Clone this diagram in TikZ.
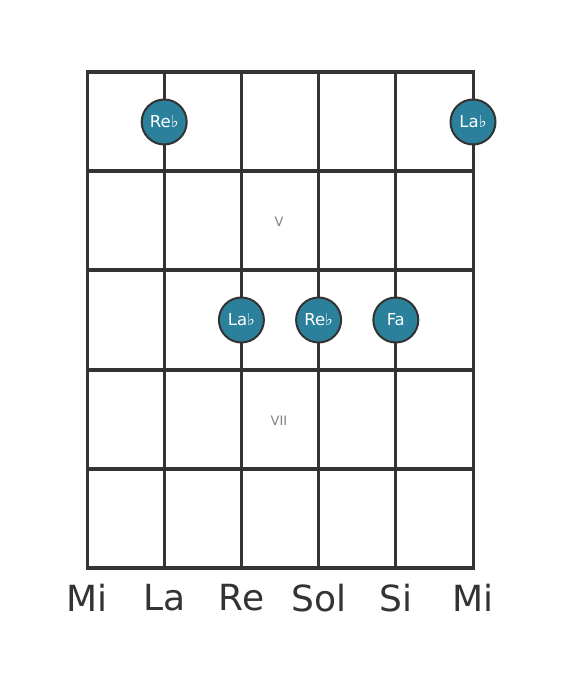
\documentclass[tikz,border=0pt]{standalone}
\usepackage{fontspec}
\setmainfont{DejaVu Sans}
\usepackage{tikz}
\usetikzlibrary{calc}
\definecolor{dotblue}{HTML}{2B809B}
\definecolor{wire}{HTML}{333333}

\begin{document}
\begin{tikzpicture}[x=1pt, y=-1pt, main node/.style={circle, draw=wire, line width=2pt, fill=dotblue, minimum size=45pt, inner sep=0pt, text=white, font=\fontsize{16.5}{16.5}\selectfont}, fret/.style={font=\fontsize{13}{13}\selectfont, text=gray}, string/.style={font=\fontsize{36}{36}\selectfont, text=wire}]
\useasboundingbox (0,0) rectangle (568,682);
\foreach \x in {87,164.2,241.4,318.6,395.8,473} \draw[wire, line width=3pt] (\x,72) -- (\x,568);
\foreach \y in {72,171.2,270.4,369.6,468.8,568} \draw[wire, line width=4pt] (85.5,\y) -- (474.5,\y);
\node[fret] (5) at (279,222) {V};
\node[fret] (7) at (279,421) {VII};
\node[main node] (1) at (164.2,122) {Re♭};
\node[main node] (2) at (473,122) {La♭};
\node[main node] (3) at (241.4,320) {La♭};
\node[main node] (4) at (318.6,320) {Re♭};
\node[main node] (6) at (395.8,320) {Fa};
\node[string] (s1) at (87,598) {Mi};
\node[string] (s2) at (164.2,598) {La};
\node[string] (s3) at (241.4,598) {Re};
\node[string] (s4) at (318.6,598) {Sol};
\node[string] (s5) at (395.8,598) {Si};
\node[string] (s6) at (473,598) {Mi};
\end{tikzpicture}
\end{document}
